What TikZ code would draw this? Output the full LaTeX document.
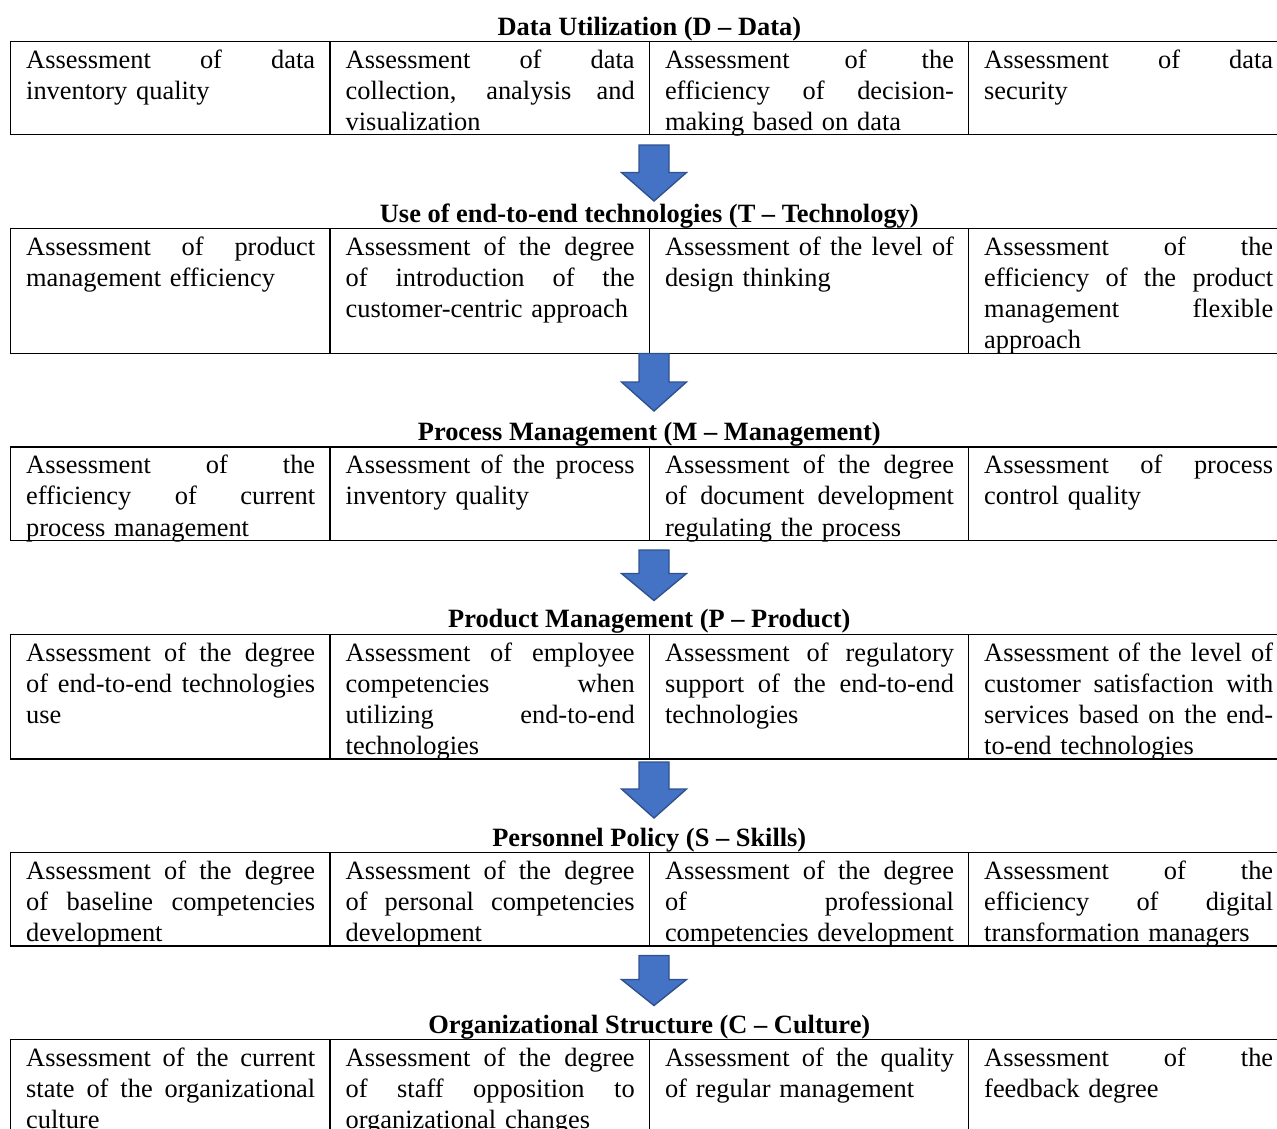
\documentclass[tikz,border=0pt]{standalone}
\usepackage{fontspec}
\setmainfont{Liberation Serif}
\definecolor{arrowfill}{HTML}{4472C4}
\definecolor{arrowline}{HTML}{2F528F}
\newlength\cellw
\setlength\cellw{289pt}
\newcommand\jl[1]{\leavevmode\hbox to\cellw{\spaceskip=\fontdimen2\font plus 1fil\relax #1}\\}
\tikzset{
  cell/.style={anchor=north west, inner sep=0pt, text width=\cellw, align=left,
    font=\fontsize{26.4}{31.1}\selectfont, execute at begin node={\leavevmode\strut}},
  title/.style={anchor=base, inner sep=0pt, font=\fontsize{26.4}{31.1}\selectfont\bfseries},
  gridline/.style={line width=1.2pt, draw=black},
  blockarrow/.style={fill=arrowfill, draw=arrowline, line width=1.4pt, line join=miter},
}
% #1 top, #2 number of lines, #3 name prefix, #4-#7 cells
\newcommand\mktable[7]{%
  \pgfmathsetmacro\tabbot{#1+#2*31.1}%
  \pgfmathsetmacro\txty{#1+4.9}%
  \draw[gridline] (10.5,-#1) rectangle (1288,-\tabbot);
  \foreach \xx in {330,649.3,968.5} \draw[gridline] (\xx,-#1) -- (\xx,-\tabbot);
  \node[cell] (#3a) at (26,-\txty) {#4};
  \node[cell] (#3b) at (345.5,-\txty) {#5};
  \node[cell] (#3c) at (664.8,-\txty) {#6};
  \node[cell] (#3d) at (984,-\txty) {#7};
}
% #1 top, #2 shoulder, #3 tip
\newcommand\mkarrow[3]{%
  \draw[blockarrow] (639,-#1) -- (669,-#1) -- (669,-#2) -- (686.5,-#2) -- (654,-#3)
    -- (621.5,-#2) -- (639,-#2) -- cycle;
}
\begin{document}
\begin{tikzpicture}[x=1pt,y=1pt]
\useasboundingbox (0,0) rectangle (1277,-1128);
\clip (0,0) rectangle (1277,-1128);

\node[title] (h1) at (649.3,-35) {Data Utilization (D – Data)};
\mktable{41.5}{3}{d}
  {\jl{Assessment of data}inventory quality}
  {\jl{Assessment of data}\jl{collection, analysis and}visualization}
  {\jl{Assessment of the}\jl{efficiency of decision-}making based on data}
  {\jl{Assessment of data}security}
\mkarrow{145}{172.5}{201}

\node[title] (h2) at (649.3,-222) {Use of end-to-end technologies (T – Technology)};
\mktable{228.7}{4}{t}
  {\jl{Assessment of product}management efficiency}
  {\jl{Assessment of the degree}\jl{of introduction of the}customer-centric approach}
  {\jl{Assessment of the level of}design thinking}
  {\jl{Assessment of the}\jl{efficiency of the product}\jl{management flexible}approach}
\mkarrow{353.5}{382}{411}

\node[title] (h3) at (649.3,-440.5) {Process Management (M – Management)};
\mktable{447}{3}{m}
  {\jl{Assessment of the}\jl{efficiency of current}process management}
  {\jl{Assessment of the process}inventory quality}
  {\jl{Assessment of the degree}\jl{of document development}regulating the process}
  {\jl{Assessment of process}control quality}
\mkarrow{550}{573.5}{600.5}

\node[title] (h4) at (649.3,-627.5) {Product Management (P – Product)};
\mktable{634.5}{4}{p}
  {\jl{Assessment of the degree}\jl{of end-to-end technologies}use}
  {\jl{Assessment of employee}\jl{competencies when}\jl{utilizing end-to-end}technologies}
  {\jl{Assessment of regulatory}\jl{support of the end-to-end}technologies}
  {\jl{Assessment of the level of}\jl{customer satisfaction with}\jl{services based on the end-}to-end technologies}
\mkarrow{762}{789}{818}

\node[title] (h5) at (649.3,-846) {Personnel Policy (S – Skills)};
\mktable{852.7}{3}{s}
  {\jl{Assessment of the degree}\jl{of baseline competencies}development}
  {\jl{Assessment of the degree}\jl{of personal competencies}development}
  {\jl{Assessment of the degree}\jl{of professional}competencies development}
  {\jl{Assessment of the}\jl{efficiency of digital}transformation managers}
\mkarrow{955.5}{979.5}{1005.5}

\node[title] (h6) at (649.3,-1033) {Organizational Structure (C – Culture)};
\mktable{1039.5}{4}{c}
  {\jl{Assessment of the current}\jl{state of the organizational}culture}
  {\jl{Assessment of the degree}\jl{of staff opposition to}organizational changes}
  {\jl{Assessment of the quality}of regular management}
  {\jl{Assessment of the}feedback degree}
\end{tikzpicture}
\end{document}
